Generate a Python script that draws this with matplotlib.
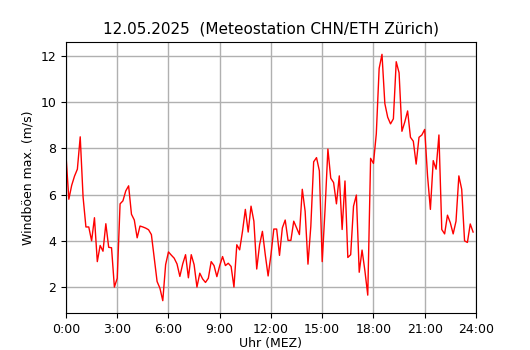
import numpy as np
import matplotlib
matplotlib.use("Agg")
import matplotlib.pyplot as plt

# Windböen max. (m/s), 10-Minuten-Werte ab 0:00
gusts = [
	7.7, 5.8, 6.4, 6.8, 7.1, 8.5, 5.9, 4.6, 4.6, 4.0,
	5.0, 3.1, 3.8, 3.55, 4.74, 3.72, 3.7, 2.0, 2.38, 5.6,
	5.73, 6.16, 6.38, 5.15, 4.9, 4.13, 4.64, 4.6, 4.55, 4.48,
	4.27, 3.25, 2.24, 1.95, 1.41, 2.97, 3.52, 3.38, 3.25, 3.0,
	2.46, 3.0, 3.4, 2.4, 3.4, 2.97, 2.0, 2.6, 2.35, 2.2,
	2.38, 3.1, 2.93, 2.45, 2.93, 3.32, 2.93, 3.03, 2.89, 2.0,
	3.83, 3.61, 4.41, 5.36, 4.38, 5.5, 4.85, 2.78, 3.83, 4.41,
	3.4, 2.48, 3.4, 4.51, 4.51, 3.37, 4.56, 4.9, 4.02, 4.02,
	4.85, 4.56, 4.27, 6.23, 5.28, 2.99, 4.63, 7.42, 7.6, 7.03,
	3.1, 5.36, 7.97, 6.71, 6.52, 5.6, 6.81, 4.49, 6.59, 3.28,
	3.4, 5.5, 5.98, 2.64, 3.6, 2.7, 1.65, 7.57, 7.35, 8.63,
	11.46, 12.07, 9.94, 9.35, 9.06, 9.28, 11.75, 11.27, 8.74, 9.14,
	9.62, 8.48, 8.31, 7.32, 8.48, 8.58, 8.82, 6.81, 5.36, 7.47,
	7.1, 8.58, 4.49, 4.3, 5.11, 4.78, 4.3, 4.85, 6.81, 6.23,
	4.0, 3.93, 4.73, 4.38,
]
tick_hours = [0, 3, 6, 9, 12, 15, 18, 21, 24]
tick_labels = ["%d:00" % h for h in tick_hours]

hours = np.arange(len(gusts)) / 6.0

fig = plt.figure(figsize=(5.3, 3.5), dpi=100)
ax = fig.add_axes([0.1245, 0.1057, 0.7735, 0.7743])
ax.plot(hours, gusts, color="red", linewidth=1)

ax.set_xlim(0, 24)
ax.set_xticks(tick_hours)
ax.set_xticklabels(tick_labels)
ax.set_yticks([2, 4, 6, 8, 10, 12])
ax.grid(True, color="#b0b0b0", linewidth=1)
ax.set_axisbelow(True)

ax.set_title("12.05.2025  (Meteostation CHN/ETH Zürich)", fontsize=11)
ax.set_xlabel("Uhr (MEZ)", fontsize=9, labelpad=1)
ax.set_ylabel("Windböen max. (m/s)", fontsize=9)
ax.tick_params(labelsize=9)

fig.savefig("out.png", dpi=100)
